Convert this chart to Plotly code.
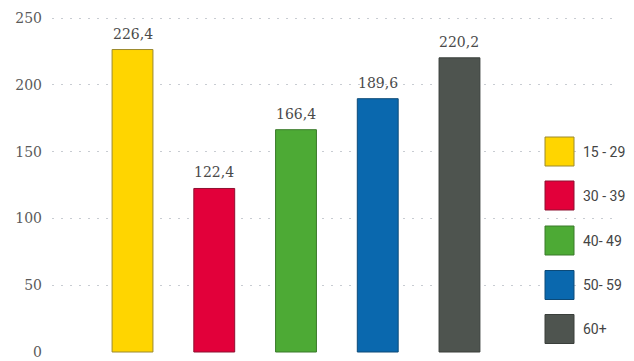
import plotly.graph_objects as go

categories = ["15 - 29", "30 - 39", "40- 49", "50- 59", "60+"]
values = [226.4, 122.4, 166.4, 189.6, 220.2]
colors = ["#FFD500", "#E2003A", "#4DAA35", "#0A68AE", "#4E544F"]
borders = ["#9C8A2E", "#8E1030", "#3A7A2A", "#0C4A78", "#3A3F3B"]
y_ticks = [0, 50, 100, 150, 200, 250]

labels = [f"{v:.1f}".replace(".", ",") for v in values]

# page has an 8px body margin: figure drawn at offset (8, 8)
OFF = 8
PL, PR, PT, PB = 52, 613, 15, 353  # plot area in window pixels
Y0, Y1 = -0.75, 252.25

fig = go.Figure()
fig.add_trace(go.Bar(
    x=list(range(len(categories))),
    y=values,
    width=0.5,
    marker=dict(color=colors, line=dict(color=borders, width=1)),
    showlegend=False,
    hoverinfo="skip",
))

# value labels above bars
for i, (v, t) in enumerate(zip(values, labels)):
    fig.add_annotation(x=i, y=v, xref="x", yref="y", text=t, showarrow=False,
                       yanchor="bottom", yshift=6,
                       font=dict(family="DejaVu Serif", size=14, color="#4a4a4a"))

# legend built from categories / colors
legend_px = [151.5, 195.5, 240.5, 285, 329]
pw, ph = PR - PL, PB - PT
for cat, col, brd, py in zip(categories, colors, borders, legend_px):
    yc = (PB - py) / ph
    h = 29 / ph
    fig.add_shape(type="rect", xref="paper", yref="paper",
                  x0=(545 - PL) / pw, x1=(574 - PL) / pw,
                  y0=yc - h / 2, y1=yc + h / 2,
                  fillcolor=col, line=dict(color=brd, width=1), layer="above")
    fig.add_annotation(x=(581 - PL) / pw, y=yc, xref="paper", yref="paper",
                       text=cat, showarrow=False, xanchor="left", yanchor="middle",
                       font=dict(family="Roboto", size=14, color="#444444"),
                       bgcolor="white")

W, H = 634 - OFF, 361 - OFF
fig.update_layout(
    width=W, height=H,
    margin=dict(l=PL - OFF, r=W - (PR - OFF), t=PT - OFF, b=H - (PB - OFF)),
    paper_bgcolor="white", plot_bgcolor="white",
    showlegend=False,
)
fig.update_xaxes(range=[-0.985, 5.878], showticklabels=False, showgrid=False,
                 zeroline=False, showline=False, ticks="", automargin=False)
fig.update_yaxes(range=[Y0, Y1], tickvals=y_ticks, showgrid=True,
                 gridcolor="#c8ccd2", griddash="2px,7px", gridwidth=1,
                 zeroline=False, showline=False, ticks="", automargin=False,
                 tickfont=dict(family="DejaVu Serif", size=14, color="#5a5a5a"),
                 ticklabelstandoff=9)

fig.write_html("out.html")
